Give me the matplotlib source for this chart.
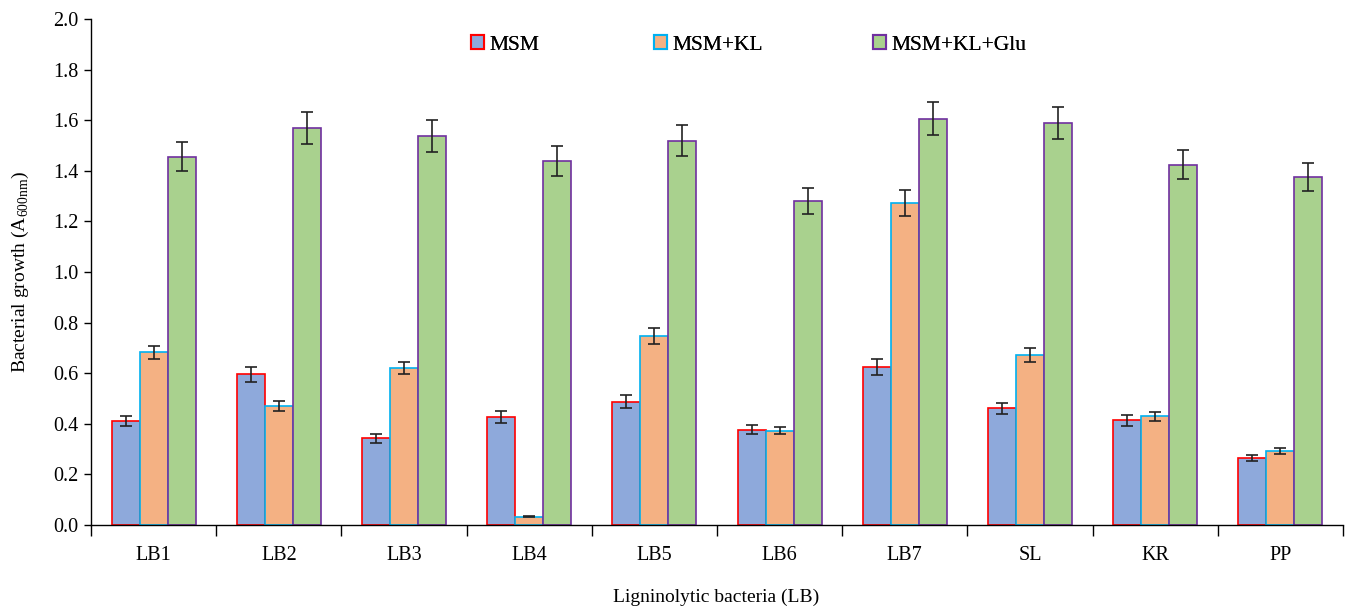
import numpy as np
import matplotlib
matplotlib.use("Agg")
import matplotlib.pyplot as plt
from matplotlib.patches import Patch

categories = ["LB1", "LB2", "LB3", "LB4", "LB5", "LB6", "LB7", "SL", "KR", "PP"]
series_names = ["MSM", "MSM+KL", "MSM+KL+Glu"]
msm = [0.411, 0.595, 0.342, 0.427, 0.487, 0.377, 0.625, 0.461, 0.414, 0.265]
msm_kl = [0.682, 0.470, 0.621, 0.032, 0.747, 0.373, 1.274, 0.671, 0.430, 0.292]
msm_kl_glu = [1.456, 1.570, 1.538, 1.439, 1.518, 1.280, 1.606, 1.590, 1.424, 1.375]
msm_err = [0.020, 0.030, 0.018, 0.022, 0.025, 0.019, 0.031, 0.023, 0.021, 0.013]
msm_kl_err = [0.027, 0.019, 0.025, 0.002, 0.030, 0.015, 0.051, 0.027, 0.017, 0.012]
msm_kl_glu_err = [0.058, 0.063, 0.062, 0.058, 0.061, 0.051, 0.064, 0.064, 0.057, 0.055]

face_colors = ["#8EA9DB", "#F4B183", "#A9D18E"]
edge_colors = ["#FF0000", "#00B0F0", "#7030A0"]

plt.rcParams['font.family'] = ['Liberation Serif', 'DejaVu Serif']
plt.rcParams['mathtext.fontset'] = 'custom'
plt.rcParams['mathtext.rm'] = 'Liberation Serif'

fig = plt.figure(figsize=(13.47, 6.08), dpi=100)
ax = fig.add_axes([0.0676, 0.1365, 0.9294, 0.8323])

x = np.arange(len(categories))
w = 0.224
data = [msm, msm_kl, msm_kl_glu]
errs = [msm_err, msm_kl_err, msm_kl_glu_err]
for i in range(3):
    ax.bar(x + (i - 1) * w, data[i], width=w, color=face_colors[i],
           edgecolor=edge_colors[i], linewidth=1.2, zorder=2)
    ax.errorbar(x + (i - 1) * w, data[i], yerr=errs[i], fmt='none',
                ecolor='#222222', elinewidth=1.2, capsize=4, capthick=1.2, zorder=3)

ax.set_xlim(-0.5, len(categories) - 0.5)
ax.set_ylim(0, 2.0)
ax.set_yticks(np.arange(0, 2.01, 0.2))
ax.set_yticklabels([f"{v:.1f}" for v in np.arange(0, 2.01, 0.2)])
ax.set_xticks(x)
ax.set_xticklabels(categories)
ax.set_xticks(np.arange(-0.5, len(categories), 1.0), minor=True)
ax.tick_params(axis='x', which='major', length=0, labelsize=14.5, pad=15)
ax.tick_params(axis='x', which='minor', length=8, width=1, direction='out')
ax.tick_params(axis='y', labelsize=14.5, length=5, width=1, direction='out', pad=4)
for s in ['top', 'right']:
    ax.spines[s].set_visible(False)
for s in ['left', 'bottom']:
    ax.spines[s].set_linewidth(1.0)

fig.text(0.532, 0.004, "Ligninolytic bacteria (LB)", fontsize=14, ha='center', va='bottom')
ax.set_ylabel("Bacterial growth (A$_{\\mathregular{600nm}}$)", fontsize=14, labelpad=16)

anchors = [0.350, 0.4855, 0.648]
for i in range(3):
    h = Patch(facecolor=face_colors[i], edgecolor=edge_colors[i], linewidth=1.5)
    leg = fig.legend(handles=[h], labels=[series_names[i]], loc='center left',
                     bbox_to_anchor=(anchors[i], 0.926), frameon=False, fontsize=15.5,
                     handlelength=0.6, handleheight=0.6, handletextpad=0.25,
                     borderaxespad=0, borderpad=0)
    fig.add_artist(leg)

fig.savefig("out.png", dpi=100)
